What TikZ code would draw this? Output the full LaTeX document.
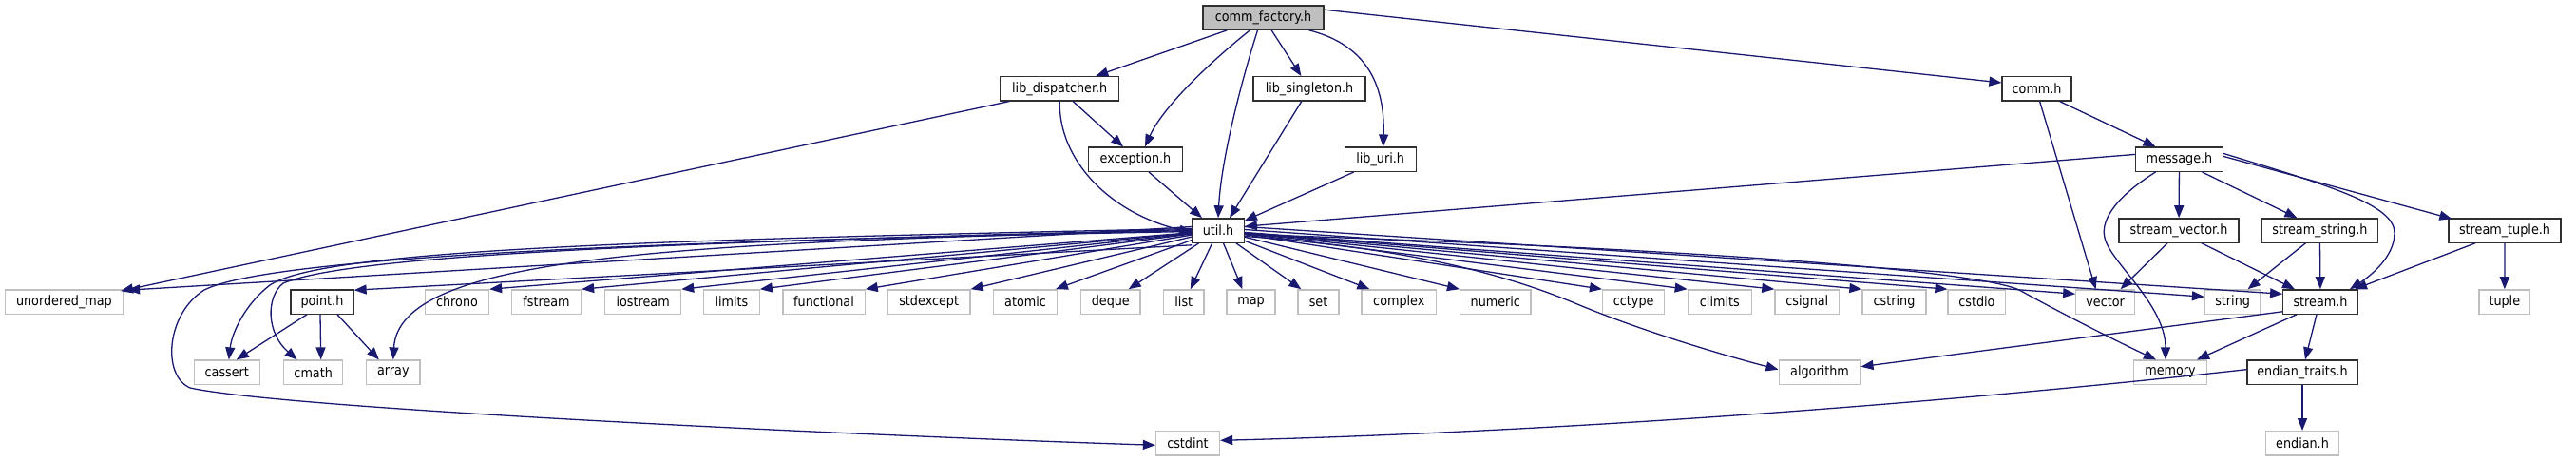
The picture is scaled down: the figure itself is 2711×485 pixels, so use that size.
\documentclass[tikz,border=0pt]{standalone}
\usepackage{fontspec}
\setmainfont{DejaVu Sans}[FakeStretch=0.9]
\usetikzlibrary{arrows.meta,calc}
\definecolor{edgec}{HTML}{191970}
\definecolor{sysb}{HTML}{BFBFBF}
\definecolor{hdrb}{HTML}{303030}
\definecolor{cffill}{HTML}{BFBFBF}
\begin{document}
\begin{tikzpicture}[x=1pt,y=-1pt,
  box/.style={draw, line width=1.3pt, minimum height=25.3pt, inner xsep=2pt, inner ysep=0pt,
    font=\fontsize{14.2}{16}\selectfont, anchor=center},
  hdr/.style={box, draw=hdrb},
  sys/.style={box, draw=sysb},
  edg/.style={draw=edgec, line width=1.3pt, -{Triangle[length=13pt,width=10pt]}}]
\useasboundingbox (0,0) rectangle (2711,485);
% row 1
\node[hdr, fill=cffill, minimum width=127pt] (cf) at (1329.5,18.5) {comm\_factory.h};
% row 2
\node[hdr, minimum width=125pt] (libdisp) at (1115.2,93.3) {lib\_dispatcher.h};
\node[hdr, minimum width=118pt] (libsing) at (1378,93.3) {lib\_singleton.h};
\node[hdr, minimum width=73pt] (comm) at (2143.6,93.3) {comm.h};
% row 3
\node[hdr, minimum width=99pt] (exc) at (1195,167.7) {exception.h};
\node[hdr, minimum width=75pt] (liburi) at (1452.7,167.7) {lib\_uri.h};
\node[hdr, minimum width=91.5pt] (msg) at (2293.5,167.7) {message.h};
% row 4
\node[hdr, minimum width=54.5pt] (util) at (1282,242.5) {util.h};
\node[hdr, minimum width=126pt] (svec) at (2293,242.5) {stream\_vector.h};
\node[hdr, minimum width=122.7pt] (sstr) at (2441.4,242.5) {stream\_string.h};
\node[hdr, minimum width=118pt] (stup) at (2636,242.5) {stream\_tuple.h};
% row 5
\node[sys, minimum width=124pt] (umap) at (67.4,317.5) {unordered\_map};
\node[hdr, minimum width=66pt] (point) at (339,317.5) {point.h};
\node[sys, minimum width=67pt] (chrono) at (481,317.5) {chrono};
\node[sys, minimum width=73pt] (fstream) at (575,317.5) {fstream};
\node[sys, minimum width=80pt] (iostream) at (676.6,317.5) {iostream};
\node[sys, minimum width=58.5pt] (limits) at (770,317.5) {limits};
\node[sys, minimum width=86.3pt] (functional) at (867,317.5) {functional};
\node[sys, minimum width=86.6pt] (stdexcept) at (977.7,317.5) {stdexcept};
\node[sys, minimum width=66.5pt] (atomic) at (1079,317.5) {atomic};
\node[sys, minimum width=62.5pt] (deque) at (1168.8,317.5) {deque};
\node[sys, minimum width=42.5pt] (list) at (1245.8,317.5) {list};
\node[sys, minimum width=51pt] (map) at (1316.5,317.5) {map};
\node[sys, minimum width=43pt] (set) at (1387.5,317.5) {set};
\node[sys, minimum width=78.6pt] (complex) at (1472.3,317.5) {complex};
\node[sys, minimum width=74.4pt] (numeric) at (1573.8,317.5) {numeric};
\node[sys, minimum width=65.2pt] (cctype) at (1719.2,317.5) {cctype};
\node[sys, minimum width=67pt] (climits) at (1809.8,317.5) {climits};
\node[sys, minimum width=67.8pt] (csignal) at (1901.8,317.5) {csignal};
\node[sys, minimum width=67pt] (cstring) at (1993.5,317.5) {cstring};
\node[sys, minimum width=60.7pt] (cstdio) at (2080.4,317.5) {cstdio};
\node[sys, minimum width=61.6pt] (vector) at (2215.6,317.5) {vector};
\node[sys, minimum width=58.1pt] (string) at (2349.6,317.5) {string};
\node[hdr, minimum width=78.5pt] (stream) at (2442,317.5) {stream.h};
\node[sys, minimum width=53.5pt] (tuple) at (2635.8,317.5) {tuple};
% row 6
\node[sys, minimum width=68.7pt] (cassert) at (238.8,391.7) {cassert};
\node[sys, minimum width=62pt] (cmath) at (329.7,391.7) {cmath};
\node[sys, minimum width=56.3pt] (array) at (413.8,391.7) {array};
\node[sys, minimum width=85.7pt] (algorithm) at (1915,391.7) {algorithm};
\node[sys, minimum width=76.8pt] (memory) at (2284,391.7) {memory};
\node[hdr, minimum width=116.2pt] (endtr) at (2423,391.7) {endian\_traits.h};
% row 7
\node[sys, minimum width=67pt] (cstdint) at (1250,466.3) {cstdint};
\node[sys, minimum width=76.8pt] (endian) at (2423,466.3) {endian.h};

% comm_factory edges
\draw[edg] (cf) -- (libdisp);
\draw[edg] (cf) -- (libsing);
\draw[edg] ([xshift=-14pt]cf.south) .. controls (1280,60) and (1225,110) .. ([xshift=10pt]exc.north);
\draw[edg] ([xshift=-6pt]cf.south) .. controls (1305,90) and (1285,170) .. (util.north);
\draw[edg] ([xshift=48pt]cf.south) .. controls (1430,45) and (1458,80) .. ([xshift=3pt]liburi.north);
\draw[edg] ([yshift=-5pt]cf.north east) -- ([yshift=-7pt]comm.north west);
% lib_dispatcher
\draw[edg] ([xshift=-53pt]libdisp.south) -- ([xshift=-3pt,yshift=-2pt]umap.north east);
\draw[edg] ([xshift=14pt]libdisp.south) -- ([xshift=-13pt]exc.north);
\draw[edg] (libdisp.south) .. controls (1114,170) and (1170,225) .. ([yshift=-2pt]util.west);
% others to util
\draw[edg] (libsing) -- ([xshift=12pt]util.north);
\draw[edg] ([xshift=14pt]exc.south) -- ([xshift=-17pt]util.north);
\draw[edg] ([xshift=-28pt]liburi.south) -- ([yshift=-3pt]util.north east);
\draw[edg] ([yshift=-8pt]msg.north west) -- ([yshift=-9pt]util.north east);
% comm.h
\draw[edg] ([xshift=24pt]comm.south) -- ([xshift=-25pt]msg.north);
\draw[edg] ([xshift=3pt]comm.south) -- ([xshift=-10pt]vector.north);
% message.h
\draw[edg] (msg) -- (svec);
\draw[edg] ([xshift=24pt]msg.south) -- ([xshift=-24pt]sstr.north);
\draw[edg] ([yshift=-10pt]msg.north east) -- ([xshift=4pt,yshift=-1pt]stup.north west);
\draw[edg] ([yshift=-7pt]msg.north east) .. controls (2450,195) and (2520,215) .. (2520,245) .. controls (2520,270) and (2495,290) .. ([xshift=31pt]stream.north);
\draw[edg] ([xshift=-25pt]msg.south) .. controls (2230,205) and (2210,230) .. (2215,250) .. controls (2220,275) and (2279,320) .. ([xshift=-5pt]memory.north);
% stream_*
\draw[edg] ([xshift=-12pt]svec.south) -- ([xshift=16pt]vector.north);
\draw[edg] ([xshift=24pt]svec.south) -- ([xshift=-27pt]stream.north);
\draw[edg] ([xshift=-15pt]sstr.south) -- ([xshift=16pt]string.north);
\draw[edg] (sstr) -- (stream);
\draw[edg] ([xshift=-31pt]stup.south) -- ([xshift=36pt]stream.north);
\draw[edg] (stup) -- (tuple);
% stream.h
\draw[edg] ([yshift=3pt]stream.south west) -- ([yshift=6pt]algorithm.east);
\draw[edg] ([xshift=-25pt]stream.south) -- ([xshift=28pt]memory.north);
\draw[edg] ([xshift=-4pt]stream.south) -- ([xshift=3pt]endtr.north);
% endian_traits
\draw[edg] (endtr) -- (endian);
\draw[edg] ([yshift=3pt]endtr.west) .. controls (1900,440) and (1500,458) .. ([yshift=3pt]cstdint.east);
% point.h
\draw[edg] ([xshift=-16pt]point.south) -- ([xshift=10pt]cassert.north);
\draw[edg] ([xshift=-2pt]point.south) -- ([xshift=8pt]cmath.north);
\draw[edg] ([xshift=16pt]point.south) -- ([xshift=-15pt]array.north);
% util.h fan
\draw[edg] ([yshift=4pt]util.west) -- ([xshift=4pt,yshift=-1pt]umap.north east);
\draw[edg] ([yshift=-2pt]util.south west) -- ([yshift=-1pt]point.north east);
\draw[edg] ([yshift=2pt]util.west) .. controls (700,252) and (340,262) .. (284,300) .. controls (258,320) and (244,350) .. ([xshift=2pt]cassert.north);
\draw[edg] ([yshift=1pt]util.west) .. controls (700,255) and (370,268) .. (298,298) .. controls (280,312) and (280,350) .. ([xshift=-17pt]cmath.north);
\draw[edg] ([yshift=0pt]util.west) .. controls (700,255) and (420,270) .. (array.north);
\draw[edg] ([yshift=-1pt]util.west) .. controls (900,250) and (300,262) .. (215,305) .. controls (175,330) and (170,395) .. (200,408) .. controls (300,430) and (900,458) .. ([yshift=-2pt]cstdint.west);
\draw[edg] (util) -- (chrono.north east);
\draw[edg] (util) -- (fstream.north east);
\draw[edg] (util) -- (iostream.north east);
\draw[edg] (util) -- (limits.north east);
\draw[edg] (util) -- (functional.north east);
\draw[edg] (util) -- (stdexcept.north east);
\draw[edg] (util) -- ([xshift=-2pt]atomic.north east);
\draw[edg] (util) -- ([xshift=-13pt]deque.north east);
\draw[edg] (util) -- ([xshift=7pt]list.north);
\draw[edg] (util) -- ([xshift=-9pt]map.north);
\draw[edg] (util) -- ([xshift=4pt]set.north west);
\draw[edg] (util) -- ([xshift=9pt]complex.north west);
\draw[edg] (util) -- (numeric.north west);
\draw[edg] (util) -- (cctype.north west);
\draw[edg] (util) -- (climits.north west);
\draw[edg] (util) -- (csignal.north west);
\draw[edg] (util) -- (cstring.north west);
\draw[edg] (util) -- (cstdio.north west);
\draw[edg] ([yshift=-2pt]util.east) -- ([yshift=-5pt]vector.north west);
\draw[edg] ([yshift=1pt]util.east) -- ([yshift=-8pt]string.north west);
\draw[edg] ([yshift=4pt]util.east) -- ([yshift=-5pt]stream.north west);
\draw[edg] ([yshift=-4pt]util.east) .. controls (1800,262) and (2080,285) .. (2125,305) .. controls (2170,330) and (2230,360) .. ([xshift=-15pt]memory.north);
\draw[edg] ([yshift=-6pt]util.east) .. controls (1500,262) and (1600,295) .. (1660,320) .. controls (1720,345) and (1800,370) .. ([yshift=3pt]algorithm.west);
\end{tikzpicture}
\end{document}
